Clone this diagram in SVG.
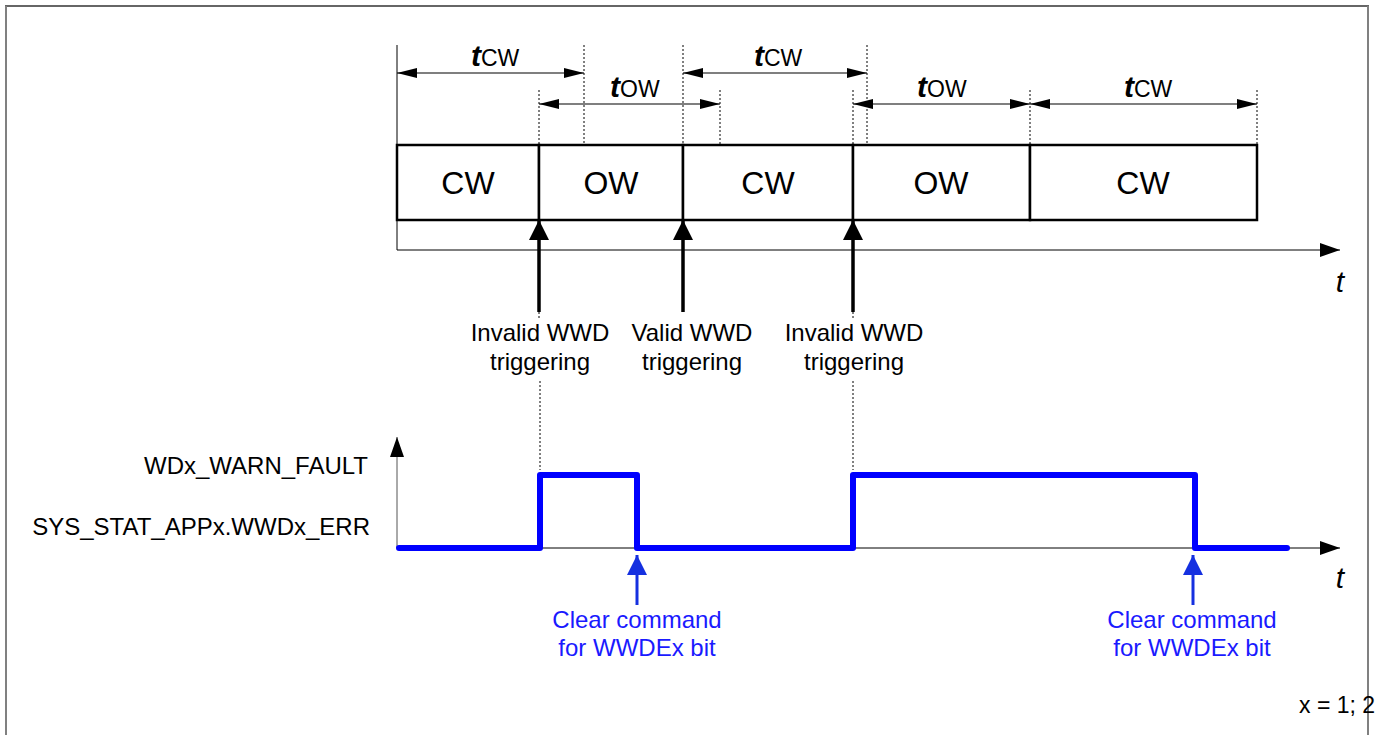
<svg xmlns="http://www.w3.org/2000/svg" width="1391" height="735" viewBox="0 0 1391 735">
<defs>
<style>
text{font-family:"Liberation Sans",Arial,sans-serif;fill:#000}
.lbl{font-size:24px;text-anchor:middle}
.box{fill:#fff;stroke:#000;stroke-width:2.5}
.thin{stroke:#000;stroke-width:1;fill:none}
.dot{stroke:#000;stroke-width:1;stroke-dasharray:2,2;fill:none}
.dim{stroke:#000;stroke-width:1.2;fill:none;marker-start:url(#ab);marker-end:url(#ae)}
.trig{stroke:#000;stroke-width:3.5;fill:none;marker-end:url(#tk)}
.blue{stroke:#0000ff;stroke-width:6;fill:none;stroke-linecap:round;stroke-linejoin:round}
.barr{stroke:#1530e0;stroke-width:3;fill:none;marker-end:url(#bk)}
.btxt{fill:#1a1aff;font-size:24px;text-anchor:middle}
.ti{font-size:30px;font-style:italic;font-weight:bold}
.ts{font-size:23px}
.bx{font-size:32px;text-anchor:middle}
</style>
<marker id="ae" viewBox="0 0 20 10" refX="20" refY="5" markerWidth="20" markerHeight="10" markerUnits="userSpaceOnUse" orient="auto"><path d="M0,0 L20,5 L0,10 Z" fill="#000"/></marker>
<marker id="ab" viewBox="0 0 20 10" refX="0" refY="5" markerWidth="20" markerHeight="10" markerUnits="userSpaceOnUse" orient="auto"><path d="M20,0 L0,5 L20,10 Z" fill="#000"/></marker>
<marker id="tk" viewBox="0 0 20 20" refX="20" refY="10" markerWidth="20" markerHeight="20" markerUnits="userSpaceOnUse" orient="auto"><path d="M0,0 L20,10 L0,20 Z" fill="#000"/></marker>
<marker id="bk" viewBox="0 0 20 20" refX="20" refY="10" markerWidth="20" markerHeight="20" markerUnits="userSpaceOnUse" orient="auto"><path d="M0,0 L20,10 L0,20 Z" fill="#1530e0"/></marker>
<marker id="ax" viewBox="0 0 20 14" refX="20" refY="7" markerWidth="20" markerHeight="14" markerUnits="userSpaceOnUse" orient="auto"><path d="M0,0 L20,7 L0,14 Z" fill="#000"/></marker>
</defs>
<rect width="1391" height="735" fill="#fff"/>
<g id="frame">
<line x1="5" y1="6" x2="1369" y2="6" stroke="#333" stroke-width="1.5"/>
<line x1="6" y1="6" x2="6" y2="735" stroke="#808080" stroke-width="2"/>
<line x1="1368" y1="6" x2="1368" y2="735" stroke="#808080" stroke-width="2"/>
</g>
<g id="connectors">
<line class="thin" x1="397" y1="45" x2="397" y2="250"/>
<line class="thin" x1="397" y1="250" x2="1340" y2="250" style="marker-end:url(#ax)"/>
<line class="dot" x1="584" y1="45" x2="584" y2="145"/>
<line class="dot" x1="683" y1="45" x2="683" y2="145"/>
<line class="dot" x1="867" y1="45" x2="867" y2="145"/>
<line class="dot" x1="539" y1="90" x2="539" y2="145"/>
<line class="dot" x1="720" y1="90" x2="720" y2="145"/>
<line class="dot" x1="853" y1="90" x2="853" y2="145"/>
<line class="dot" x1="1030" y1="90" x2="1030" y2="145"/>
<line class="dot" x1="1257" y1="90" x2="1257" y2="145"/>
<line class="dim" x1="397" y1="73" x2="584" y2="73"/>
<line class="dim" x1="683" y1="73" x2="867" y2="73"/>
<line class="dim" x1="539" y1="104" x2="720" y2="104"/>
<line class="dim" x1="853" y1="104" x2="1030" y2="104"/>
<line class="dim" x1="1030" y1="104" x2="1257" y2="104"/>
<line class="trig" x1="539" y1="312" x2="539" y2="220"/>
<line class="trig" x1="683" y1="312" x2="683" y2="220"/>
<line class="trig" x1="853" y1="312" x2="853" y2="220"/>
<line class="dot" x1="539" y1="312" x2="539" y2="320"/>
<line class="dot" x1="853" y1="312" x2="853" y2="320"/>
<line class="dot" x1="540" y1="381" x2="540" y2="470"/>
<line class="dot" x1="853" y1="381" x2="853" y2="470"/>
<line class="thin" x1="397" y1="548" x2="397" y2="437" style="stroke:#555;marker-end:url(#ax)"/>
<line class="thin" x1="397" y1="548" x2="1340" y2="548" style="marker-end:url(#ax)"/>
<line class="barr" x1="637" y1="605" x2="637" y2="555"/>
<line class="barr" x1="1193" y1="605" x2="1193" y2="555"/>
</g>
<g id="dims">
<text x="471" y="66"><tspan class="ti">t</tspan><tspan class="ts">CW</tspan></text>
<text x="754" y="66"><tspan class="ti">t</tspan><tspan class="ts">CW</tspan></text>
<text x="610" y="97"><tspan class="ti">t</tspan><tspan class="ts">OW</tspan></text>
<text x="917" y="97"><tspan class="ti">t</tspan><tspan class="ts">OW</tspan></text>
<text x="1124" y="97"><tspan class="ti">t</tspan><tspan class="ts">CW</tspan></text>
</g>
<g id="box-cw1"><rect class="box" x="397" y="145" width="142" height="75"/><text class="bx" x="468" y="194">CW</text></g>
<g id="box-ow1"><rect class="box" x="539" y="145" width="144" height="75"/><text class="bx" x="611" y="194">OW</text></g>
<g id="box-cw2"><rect class="box" x="683" y="145" width="170" height="75"/><text class="bx" x="768" y="194">CW</text></g>
<g id="box-ow2"><rect class="box" x="853" y="145" width="177" height="75"/><text class="bx" x="941" y="194">OW</text></g>
<g id="box-cw3"><rect class="box" x="1030" y="145" width="227" height="75"/><text class="bx" x="1143" y="194">CW</text></g>
<g id="t1"><text x="1340" y="292" font-size="30" font-style="italic" text-anchor="middle">t</text></g>
<g id="t2"><text x="1340" y="588" font-size="30" font-style="italic" text-anchor="middle">t</text></g>
<g id="lbl-invalid1"><text class="lbl" x="540" y="341">Invalid WWD</text><text class="lbl" x="540" y="370">triggering</text></g>
<g id="lbl-valid"><text class="lbl" x="692" y="341">Valid WWD</text><text class="lbl" x="692" y="370">triggering</text></g>
<g id="lbl-invalid2"><text class="lbl" x="854" y="341">Invalid WWD</text><text class="lbl" x="854" y="370">triggering</text></g>
<g id="sig-labels">
<text x="368" y="474" font-size="24" text-anchor="end">WDx_WARN_FAULT</text>
<text x="370" y="535" font-size="24" text-anchor="end">SYS_STAT_APPx.WWDx_ERR</text>
</g>
<g id="signal"><path class="blue" d="M399,548 H540 V475 H637 V548 H853 V475 H1195 V548 H1287"/></g>
<g id="clear1"><text class="btxt" x="637" y="628">Clear command</text><text class="btxt" x="637" y="656">for WWDEx bit</text></g>
<g id="clear2"><text class="btxt" x="1192" y="628">Clear command</text><text class="btxt" x="1192" y="656">for WWDEx bit</text></g>
<g id="note"><text x="1299" y="713" font-size="23">x = 1; 2</text></g>
</svg>
